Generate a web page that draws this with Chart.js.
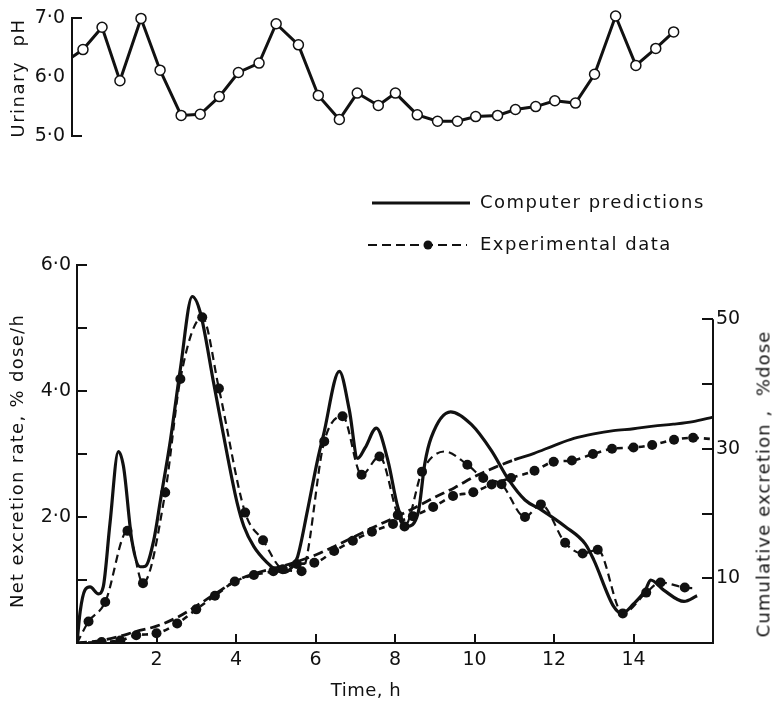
<!DOCTYPE html>
<html>
<head>
<meta charset="utf-8">
<script src="https://cdn.jsdelivr.net/npm/chart.js@4.4.1/dist/chart.umd.min.js"></script>
<style>
  html, body { margin: 0; padding: 0; background: #fff; }
  body { width: 778px; height: 702px; position: relative; overflow: hidden;
         font-family: 'DejaVu Sans', sans-serif; color: #111; }
  canvas { position: absolute; left: 0; top: 0; }
  .lab { position: absolute; white-space: nowrap; font-size: 18px; transform: translate(-50%, -50%); }
  .rot { transform: translate(-50%, -50%) rotate(-90deg); }
  .key { position: absolute; left: 366px; height: 20px; font-size: 18px; white-space: nowrap; letter-spacing: 1.5px; }
  .key svg { position: absolute; left: 0; top: 0; }
  .key span { position: absolute; left: 114px; top: -2px; }
</style>
</head>
<body>
<canvas id="phChart" width="778" height="160"></canvas>
<canvas id="rateChart" width="778" height="702"></canvas>

<div class="lab rot" style="left:17px; top:78px; letter-spacing:1.5px;">Urinary&nbsp; pH</div>
<div class="lab rot" style="left:16px; top:461px; letter-spacing:1.3px;">Net excretion rate, % dose/h</div>
<div class="lab rot" style="left:763px; top:484px; letter-spacing:1.1px;">Cumulative excretion ,&nbsp; %dose</div>
<div class="lab" style="left:366px; top:689px; letter-spacing:0.5px;">Time, h</div>

<div class="key" style="top:193px;">
  <svg width="110" height="20"><line x1="6" y1="10" x2="104" y2="10" stroke="#111" stroke-width="3"/></svg>
  <span>Computer predictions</span>
</div>
<div class="key" style="top:235px;">
  <svg width="110" height="20"><line x1="2" y1="10" x2="101" y2="10" stroke="#111" stroke-width="2" stroke-dasharray="9,5"/><circle cx="62" cy="10" r="4.5" fill="#111"/></svg>
  <span>Experimental data</span>
</div>

<script>
// urinary pH (top panel)
const phTime = [-0.13, 0.15, 0.63, 1.08, 1.61, 2.09, 2.62, 3.10, 3.58, 4.06, 4.58, 5.01, 5.57, 6.07, 6.60, 7.05,
  7.58, 8.01, 8.56, 9.07, 9.57, 10.03, 10.58, 11.03, 11.54, 12.02, 12.54, 13.02, 13.55, 14.06, 14.56, 15.01];
const phValue = [6.34, 6.47, 6.85, 5.94, 7.0, 6.12, 5.35, 5.37, 5.67, 6.08, 6.24, 6.91, 6.55, 5.69, 5.28, 5.73,
  5.52, 5.73, 5.36, 5.25, 5.25, 5.33, 5.35, 5.45, 5.50, 5.60, 5.56, 6.05, 7.04, 6.20, 6.49, 6.77];
const phLineOnly = [0];
const phTicks = [5, 6, 7];

// net excretion rate, % dose/h
const predRateTime = [0, 0.08, 0.2, 0.33, 0.54, 0.66, 0.83, 1.04, 1.17, 1.38, 1.59, 1.72, 1.93, 2.1, 2.35, 2.6,
  2.9, 3.1, 3.44, 3.8, 4.03, 4.2, 4.45, 4.79, 5.0, 5.2, 5.4, 5.55, 5.8, 6.05, 6.2, 6.6, 6.85, 7.06, 7.25, 7.53,
  7.82, 8.07, 8.3, 8.58, 8.75, 8.91, 9.4, 9.92, 10.43, 10.85, 11.27, 11.69, 12.28, 12.79, 13.0, 13.5, 13.71,
  14.0, 14.3, 14.43, 14.76, 15.27, 15.6];
const predRateValue = [0, 0.5, 0.84, 0.89, 0.78, 0.89, 1.9, 3.04, 2.8, 1.63, 1.21, 1.22, 1.63, 2.27, 3.22, 4.35,
  5.5, 5.25, 4.12, 2.92, 2.22, 1.85, 1.53, 1.27, 1.16, 1.12, 1.2, 1.37, 2.11, 2.9, 3.3, 4.31, 3.7, 2.93, 3.1, 3.41,
  2.9, 2.16, 1.85, 2.06, 2.85, 3.26, 3.67, 3.47, 3.05, 2.6, 2.27, 2.11, 1.85, 1.57, 1.32, 0.58, 0.47,
  0.62, 0.84, 1.0, 0.84, 0.66, 0.75];

const expRateTime = [0, 0.29, 0.71, 1.27, 1.66, 2.22, 2.6, 3.15, 3.57, 4.23, 4.68, 5.18, 5.65, 6.22, 6.68, 7.16,
  7.61, 8.07, 8.24, 8.68, 9.25, 9.82, 10.22, 10.68, 11.27, 11.67, 12.28, 12.72, 13.1, 13.73, 14.32, 14.68, 15.29, 15.6];
const expRateValue = [0, 0.34, 0.65, 1.78, 0.95, 2.39, 4.19, 5.17, 4.04, 2.07, 1.63, 1.17, 1.14, 3.2, 3.6, 2.67,
  2.96, 2.03, 1.85, 2.72, 3.04, 2.83, 2.62, 2.52, 2.0, 2.2, 1.59, 1.42, 1.48, 0.47, 0.80, 0.96, 0.88, 0.87];
const expRateLineOnly = [0, 20, 33];

// cumulative excretion, % dose
const predCumTime = [0, 0.5, 1.0, 1.5, 2.0, 2.5, 3.0, 3.5, 4.0, 4.5, 5.0, 5.5, 6.0, 6.5, 7.0, 7.5, 8.0, 8.5,
  9.0, 9.5, 10.0, 10.5, 11.0, 11.5, 12.0, 12.5, 13.0, 13.5, 14.0, 14.5, 15.0, 15.5, 16.0];
const predCumValue = [0, 0.3, 0.9, 1.8, 2.6, 3.9, 5.7, 7.7, 9.6, 10.8, 11.6, 12.5, 13.6, 15.0, 16.5, 18.0, 19.4,
  20.9, 22.5, 24.0, 25.7, 27.1, 28.3, 29.3, 30.5, 31.6, 32.3, 32.8, 33.1, 33.5, 33.8, 34.2, 34.9];

const expCumTime = [0, 0.62, 1.09, 1.49, 2.0, 2.52, 3.0, 3.47, 3.97, 4.45, 4.94, 5.53, 5.97, 6.47, 6.94, 7.42,
  7.95, 8.45, 8.96, 9.46, 9.97, 10.43, 10.92, 11.51, 11.99, 12.45, 12.98, 13.46, 14.0, 14.47, 15.02, 15.5, 16.0];
const expCumValue = [0, 0.15, 0.4, 1.2, 1.5, 3.0, 5.2, 7.3, 9.5, 10.5, 11.1, 12.2, 12.4, 14.2, 15.8, 17.2,
  18.4, 19.6, 21.0, 22.7, 23.3, 24.5, 25.5, 26.6, 28.0, 28.2, 29.2, 30.0, 30.2, 30.6, 31.4, 31.7, 31.5];
const expCumLineOnly = [0, 32];

const timeTicks = [2, 4, 6, 8, 10, 12, 14];
const rateTicks = [1, 2, 3, 4, 5, 6];
const rateLabels = [2, 4, 6];
const cumTicks = [10, 20, 30, 40, 50];
const cumLabels = [10, 30, 50];

const ink = '#111';
Chart.defaults.font.family = "'DejaVu Sans', sans-serif";
Chart.defaults.font.size = 19;
Chart.defaults.color = ink;

const pts = (xs, ys) => xs.map((x, i) => ({ x, y: ys[i] }));
const dotted = (skip, r) => ctx => skip.includes(ctx.dataIndex) ? 0 : r;
const fmt = v => v.toFixed(1).replace('.', '\u00b7');

// tick marks drawn inward from the axis line, as in the original figure
const innerTicks = {
  id: 'innerTicks',
  afterDatasetsDraw(chart, args, opts) {
    const ctx = chart.ctx;
    ctx.save();
    ctx.strokeStyle = ink;
    ctx.lineWidth = 2;
    for (const m of opts.marks) {
      const s = chart.scales[m.scale];
      for (const v of m.values) {
        const p = Math.round(s.getPixelForValue(v));
        ctx.beginPath();
        if (s.isHorizontal()) { ctx.moveTo(p, s.top); ctx.lineTo(p, s.top - m.len); }
        else if (s.position === 'left') { ctx.moveTo(s.right, p); ctx.lineTo(s.right + m.len, p); }
        else { ctx.moveTo(s.left, p); ctx.lineTo(s.left - m.len, p); }
        ctx.stroke();
      }
    }
    if (opts.partialAxis) {
      const s = chart.scales[opts.partialAxis.scale];
      ctx.beginPath();
      ctx.moveTo(s.left, s.getPixelForValue(opts.partialAxis.from));
      ctx.lineTo(s.left, chart.chartArea.bottom + 1);
      ctx.stroke();
    }
    ctx.restore();
  }
};

new Chart(document.getElementById('phChart'), {
  type: 'line',
  data: {
    datasets: [{
      data: pts(phTime, phValue),
      borderColor: ink,
      borderWidth: 3,
      tension: 0,
      pointRadius: dotted(phLineOnly, 5),
      pointBackgroundColor: '#fff',
      pointBorderColor: ink,
      pointBorderWidth: 1.5,
      clip: false
    }]
  },
  options: {
    responsive: false,
    animation: false,
    layout: { padding: { top: 13, bottom: 24, right: 65, left: 0 } },
    plugins: {
      legend: { display: false },
      tooltip: { enabled: false },
      innerTicks: { marks: [{ scale: 'y', values: [5, 7], len: 10 }] }
    },
    scales: {
      x: { type: 'linear', min: -0.126, max: 16, display: false },
      y: {
        min: 5, max: 7,
        afterFit: s => { s.width = 72; },
        afterBuildTicks: s => { s.ticks = phTicks.map(v => ({ value: v })); },
        ticks: { padding: 7, callback: v => fmt(v) },
        grid: { drawOnChartArea: false, drawTicks: false },
        border: { color: ink, width: 2 }
      }
    }
  },
  plugins: [innerTicks]
});

new Chart(document.getElementById('rateChart'), {
  type: 'line',
  data: {
    datasets: [
      {
        label: 'Computer predictions',
        data: pts(predRateTime, predRateValue),
        yAxisID: 'y',
        borderColor: ink, borderWidth: 3.2,
        cubicInterpolationMode: 'monotone',
        pointRadius: 0
      },
      {
        label: 'Experimental data',
        data: pts(expRateTime, expRateValue),
        yAxisID: 'y',
        borderColor: ink, borderWidth: 2.2, borderDash: [8, 5],
        cubicInterpolationMode: 'monotone',
        pointRadius: dotted(expRateLineOnly, 5),
        pointBackgroundColor: ink, pointBorderWidth: 0
      },
      {
        label: 'Computer predictions (cumulative)',
        data: pts(predCumTime, predCumValue),
        yAxisID: 'y1',
        borderColor: ink, borderWidth: 2.8,
        cubicInterpolationMode: 'monotone',
        segment: { borderDash: ctx => ctx.p0.parsed.x < 11 ? [10, 5] : undefined },
        pointRadius: 0
      },
      {
        label: 'Experimental data (cumulative)',
        data: pts(expCumTime, expCumValue),
        yAxisID: 'y1',
        borderColor: ink, borderWidth: 2.6, borderDash: [6, 5],
        cubicInterpolationMode: 'monotone',
        pointRadius: dotted(expCumLineOnly, 5),
        pointBackgroundColor: ink, pointBorderWidth: 0
      }
    ]
  },
  options: {
    responsive: false,
    animation: false,
    layout: { padding: { top: 265, bottom: 0, right: 0, left: 0 } },
    plugins: {
      legend: { display: false },
      tooltip: { enabled: false },
      innerTicks: {
        marks: [
          { scale: 'x', values: timeTicks, len: 9 },
          { scale: 'y', values: rateTicks, len: 10 },
          { scale: 'y1', values: cumTicks, len: 11 }
        ],
        partialAxis: { scale: 'y1', from: 50 }
      }
    },
    scales: {
      x: {
        type: 'linear', min: 0, max: 16,
        afterFit: s => { s.height = 59; },
        afterBuildTicks: s => { s.ticks = timeTicks.map(v => ({ value: v })); },
        ticks: { padding: 6, maxRotation: 0, callback: v => String(v) },
        grid: { drawOnChartArea: false, drawTicks: false },
        border: { color: ink, width: 2 }
      },
      y: {
        position: 'left', min: 0, max: 6,
        afterFit: s => { s.width = 77; },
        afterBuildTicks: s => { s.ticks = rateLabels.map(v => ({ value: v })); },
        ticks: { padding: 6, callback: v => fmt(v) },
        grid: { drawOnChartArea: false, drawTicks: false },
        border: { color: ink, width: 2 }
      },
      y1: {
        position: 'right', min: 0, max: 58.4,
        afterFit: s => { s.width = 65; },
        afterBuildTicks: s => { s.ticks = cumLabels.map(v => ({ value: v })); },
        ticks: { padding: 3, callback: v => String(v) },
        grid: { drawOnChartArea: false, drawTicks: false },
        border: { display: false }
      }
    }
  },
  plugins: [innerTicks]
});
</script>
</body>
</html>
